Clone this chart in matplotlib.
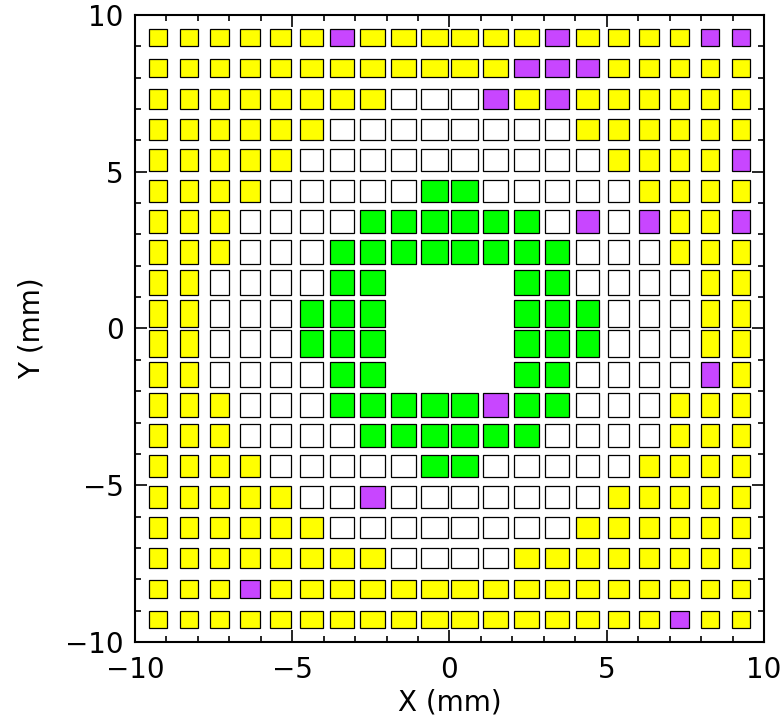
"""Detector pixel map: status of each pad on a 20 x 20 grid."""

import matplotlib

matplotlib.use("Agg")
import matplotlib.pyplot as plt
from matplotlib.patches import Rectangle

# pad status, top row first: Y yellow, W white, G green, P purple, . no pad
ROWS = [
    "YYYYYYPYYYYYYPYYYYPP",
    "YYYYYYYYYYYYPPPYYYYY",
    "YYYYYYYYWWWPYPYYYYYY",
    "YYYYYYWWWWWWWWYYYYYY",
    "YYYYYWWWWWWWWWWYYYYP",
    "YYYYWWWWWGGWWWWWYYYY",
    "YYYWWWWGGGGGGWPWPYYP",
    "YYYWWWGGGGGGGGWWWYYY",
    "YYWWWWGG....GGWWWWYY",
    "YYWWWGGG....GGGWWWYY",
    "YYWWWGGG....GGGWWWYY",
    "YYWWWWGG....GGWWWWPY",
    "YYYWWWGGGGGPGGWWWYYY",
    "YYYWWWWGGGGGGWWWWYYY",
    "YYYYWWWWWGGWWWWWYYYY",
    "YYYYYWWPWWWWWWWYYYYY",
    "YYYYYYWWWWWWWWYYYYYY",
    "YYYYYYYYWWWWYYYYYYYY",
    "YYYPYYYYYYYYYYYYYYYY",
    "YYYYYYYYYYYYYYYYYPYY",
]

# pad size (mm) per column / row, edge to edge
PAD_SIZE = [0.55, 0.57, 0.615, 0.66, 0.685, 0.71, 0.755, 0.78, 0.82, 0.86,
            0.86, 0.82, 0.78, 0.755, 0.71, 0.685, 0.66, 0.615, 0.57, 0.55]

PITCH = 0.976
COLORS = {"Y": "#ffff00", "W": "#ffffff", "G": "#00ff00", "P": "#c846ff"}

plt.rcParams["font.family"] = ["DejaVu Sans"]

fig = plt.figure(figsize=(7.82, 7.17), dpi=100)
ax = fig.add_axes([0.1726, 0.1046, 0.8044, 0.8745])

n = len(ROWS)
for r, row in enumerate(ROWS):
    yc = ((n - 1) / 2 - r) * PITCH
    h = PAD_SIZE[r]
    for c, code in enumerate(row):
        if code == ".":
            continue
        xc = (c - (n - 1) / 2) * PITCH
        w = PAD_SIZE[c]
        ax.add_patch(Rectangle((xc - w / 2, yc - h / 2), w, h,
                               facecolor=COLORS[code], edgecolor="black",
                               linewidth=0.9))

ax.set_xlim(-10, 10)
ax.set_ylim(-10, 10)
ax.set_xticks([-10, -5, 0, 5, 10])
ax.set_yticks([-10, -5, 0, 5, 10])
ax.set_xticks(range(-10, 11), minor=True)
ax.set_yticks(range(-10, 11), minor=True)
ax.tick_params(which="both", direction="in", top=True, right=True,
               width=1.2, labelsize=20)
ax.tick_params(which="major", length=8.6)
ax.tick_params(which="minor", length=4.3)
ax.tick_params(axis="x", pad=10)
ax.tick_params(axis="y", pad=8)
for s in ax.spines.values():
    s.set_linewidth(1.5)

ax.set_xlabel("X (mm)", fontsize=20, labelpad=3)
ax.set_ylabel("Y (mm)", fontsize=20, labelpad=14)

fig.savefig("out.png", dpi=100)
